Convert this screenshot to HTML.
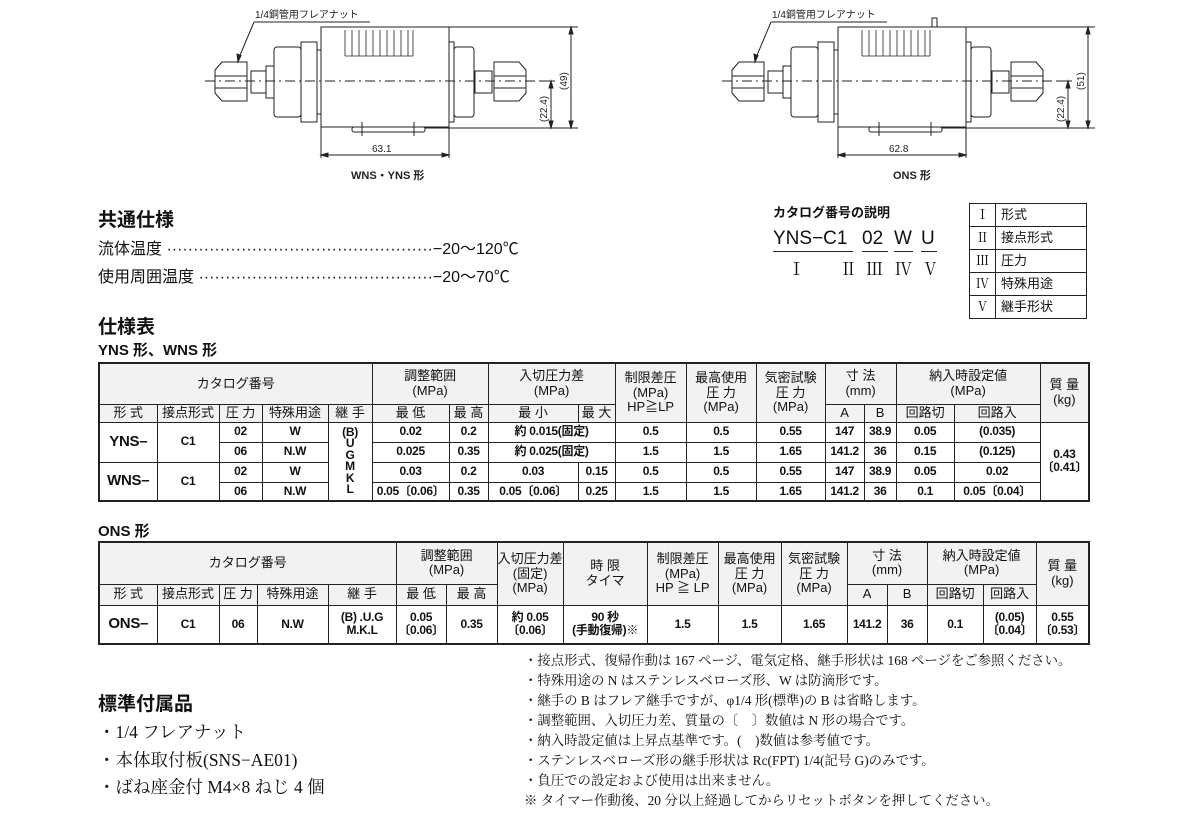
<!DOCTYPE html>
<html><head><meta charset="utf-8">
<style>
*{margin:0;padding:0;box-sizing:border-box}
body{width:1185px;height:821px;background:#fff;position:relative;overflow:hidden;font-family:"Liberation Sans","Noto Sans CJK JP",sans-serif;color:#111}
.a{position:absolute;white-space:nowrap}
.h{font-weight:bold;font-size:19px}
.s{font-family:"Liberation Serif","Noto Serif CJK SC",serif}
table{position:absolute;border-collapse:collapse;table-layout:fixed;font-size:12.5px}
td{border:1px solid #222;text-align:center;vertical-align:middle;padding:0;line-height:1.1;overflow:hidden;white-space:nowrap}
.hd td{background:#f2f2f2;font-size:13px}
.d td{font-weight:bold;font-size:12px;letter-spacing:-0.3px}
.big{font-size:15px!important;font-weight:bold}
.notes div{position:absolute;left:0;font-size:13.4px;white-space:nowrap}
.cn{position:absolute;top:227px;font-size:19px;border-bottom:1.5px solid #222;line-height:24px}
.rn{position:absolute;top:255px;font-size:17px;font-family:"Liberation Serif","Noto Serif CJK SC",serif}
</style></head><body>

<svg class="a" style="left:0;top:0" width="1185" height="200" viewBox="0 0 1185 200">
<g id="d1" fill="none" stroke="#222" stroke-width="1">
 <rect x="321" y="27" width="128" height="100"/>
 <g stroke-width="0.8">
 <line x1="345" y1="30" x2="345" y2="56"/><line x1="352" y1="30" x2="352" y2="56"/><line x1="359" y1="30" x2="359" y2="56"/><line x1="366" y1="30" x2="366" y2="56"/><line x1="373" y1="30" x2="373" y2="56"/><line x1="380" y1="30" x2="380" y2="56"/><line x1="387" y1="30" x2="387" y2="56"/><line x1="394" y1="30" x2="394" y2="56"/><line x1="401" y1="30" x2="401" y2="56"/><line x1="408" y1="30" x2="408" y2="56"/><line x1="413" y1="30" x2="413" y2="56"/>
 <line x1="345" y1="56" x2="413" y2="56"/>
 </g>
 <rect x="274" y="47" width="27" height="70" rx="3"/>
 <rect x="301" y="42" width="16" height="80"/>
 <rect x="317" y="50" width="4" height="64"/>
 <rect x="251" y="71" width="15" height="22"/>
 <rect x="266" y="66" width="8" height="32"/>
 <path d="M222 62 H247 V101 H222 L215 93 V70 Z"/>
 <line x1="215" y1="76" x2="247" y2="76"/><line x1="215" y1="88" x2="247" y2="88"/>
 <rect x="449" y="42" width="5" height="80"/>
 <rect x="454" y="47" width="20" height="70" rx="3"/>
 <rect x="475" y="71" width="17" height="22"/>
 <path d="M494 62 H519 L526 70 V93 L519 101 H494 Z"/>
 <line x1="494" y1="76" x2="526" y2="76"/><line x1="494" y1="88" x2="526" y2="88"/>
 <rect x="352" y="127" width="73" height="5" rx="2"/>
 <line x1="362" y1="122" x2="362" y2="136"/><line x1="414" y1="122" x2="414" y2="136"/>
 <line x1="205" y1="81" x2="540" y2="81" stroke-dasharray="10 4 2 4"/>
 <line x1="321" y1="127" x2="321" y2="158"/><line x1="449" y1="127" x2="449" y2="158"/>
 <line x1="321" y1="155" x2="449" y2="155"/>
 <path d="M321 155 l7 -2 v4 z M449 155 l-7 -2 v4 z" fill="#222"/>
 <line x1="449" y1="27" x2="578" y2="27"/><line x1="425" y1="128" x2="578" y2="128"/>
 <line x1="540" y1="81" x2="555" y2="81"/>
 <line x1="571" y1="27" x2="571" y2="128"/><line x1="551" y1="81" x2="551" y2="128"/>
 <path d="M571 27 l-2 7 h4 z M571 128 l-2 -7 h4 z M551 81 l-2 7 h4 z M551 128 l-2 -7 h4 z" fill="#222"/>
 <line x1="254" y1="22" x2="370" y2="22"/>
 <line x1="254" y1="22" x2="238" y2="60"/>
 <path d="M238 62 l-1 -8 l4 1.5 z" fill="#222"/>
</g>
<g transform="translate(517,0)">
 <use href="#d1"/>
</g>
<rect x="932" y="18" width="5" height="9" fill="none" stroke="#222"/>
<g font-size="10" fill="#222" font-family="Liberation Sans,Noto Sans CJK JP,sans-serif">
 <text x="255" y="18">1/4銅管用フレアナット</text>
 <text x="372" y="152">63.1</text>
 <text x="889" y="152">62.8</text>
 <text transform="translate(567,90) rotate(-90)">(49)</text>
 <text transform="translate(547,122) rotate(-90)">(22.4)</text>
 <text transform="translate(1084,90) rotate(-90)">(51)</text>
 <text transform="translate(1064,122) rotate(-90)">(22.4)</text>
 <text x="772" y="18">1/4銅管用フレアナット</text>
 <text x="351" y="179" font-weight="bold" font-size="11">WNS・YNS 形</text>
 <text x="893" y="179" font-weight="bold" font-size="11">ONS 形</text>
</g>
</svg>

<div class="a h" style="left:98px;top:205px">共通仕様</div>
<div class="a" style="left:98px;top:235px;font-size:16px">流体温度 ··················································−20〜120℃</div>
<div class="a" style="left:98px;top:263px;font-size:16px">使用周囲温度 ············································−20〜70℃</div>
<div class="a h" style="left:98px;top:312px">仕様表</div>
<div class="a" style="left:98px;top:339px;font-size:15px;font-weight:bold">YNS 形、WNS 形</div>
<div class="a" style="left:98px;top:520px;font-size:15px;font-weight:bold">ONS 形</div>

<div class="a" style="left:773px;top:202px;font-size:13px;font-weight:bold">カタログ番号の説明</div>
<div class="cn" style="left:773px;width:80px">YNS−C1</div>
<div class="cn" style="left:862px;width:26px">02</div>
<div class="cn" style="left:894px;width:19px">W</div>
<div class="cn" style="left:921px;width:16px">U</div>
<div class="rn" style="left:788px">Ⅰ</div>
<div class="rn" style="left:840px">Ⅱ</div>
<div class="rn" style="left:866px">Ⅲ</div>
<div class="rn" style="left:895px">Ⅳ</div>
<div class="rn" style="left:922px">Ⅴ</div>
<table style="left:969px;top:203px;width:117px;font-size:13px">
<colgroup><col style="width:26px"><col style="width:91px"></colgroup>
<tr style="height:23px"><td class="s">Ⅰ</td><td style="text-align:left;padding-left:5px">形式</td></tr>
<tr style="height:23px"><td class="s">Ⅱ</td><td style="text-align:left;padding-left:5px">接点形式</td></tr>
<tr style="height:23px"><td class="s">Ⅲ</td><td style="text-align:left;padding-left:5px">圧力</td></tr>
<tr style="height:23px"><td class="s">Ⅳ</td><td style="text-align:left;padding-left:5px">特殊用途</td></tr>
<tr style="height:23px"><td class="s">Ⅴ</td><td style="text-align:left;padding-left:5px">継手形状</td></tr>
</table>

<table style="left:98px;top:362px;width:990px;border:2px solid #222">
<colgroup><col style="width:58px"><col style="width:62px"><col style="width:43px"><col style="width:66px"><col style="width:44px"><col style="width:77px"><col style="width:39px"><col style="width:90px"><col style="width:37px"><col style="width:71px"><col style="width:70px"><col style="width:69px"><col style="width:39px"><col style="width:32px"><col style="width:58px"><col style="width:86px"><col style="width:49px"></colgroup>
<tr class="hd" style="height:41px"><td colspan="5">カタログ番号</td><td colspan="2">調整範囲<br>(MPa)</td><td colspan="2">入切圧力差<br>(MPa)</td><td rowspan="2">制限差圧<br>(MPa)<br>HP≧LP</td><td rowspan="2">最高使用<br>圧 力<br>(MPa)</td><td rowspan="2">気密試験<br>圧 力<br>(MPa)</td><td colspan="2">寸 法<br>(mm)</td><td colspan="2">納入時設定値<br>(MPa)</td><td rowspan="2">質 量<br>(kg)</td></tr>
<tr class="hd" style="height:18px"><td>形 式</td><td>接点形式</td><td>圧 力</td><td>特殊用途</td><td>継 手</td><td>最 低</td><td>最 高</td><td>最 小</td><td>最 大</td><td>A</td><td>B</td><td>回路切</td><td>回路入</td></tr>
<tr class="d" style="height:20px"><td rowspan="2" class="big">YNS–</td><td rowspan="2">C1</td><td>02</td><td>W</td><td rowspan="4" style="line-height:0.95">(B)<br>U<br>G<br>M<br>K<br>L</td><td>0.02</td><td>0.2</td><td colspan="2">約 0.015(固定)</td><td>0.5</td><td>0.5</td><td>0.55</td><td>147</td><td>38.9</td><td>0.05</td><td>(0.035)</td><td rowspan="4">0.43<br>〔0.41〕</td></tr>
<tr class="d" style="height:20px"><td>06</td><td>N.W</td><td>0.025</td><td>0.35</td><td colspan="2">約 0.025(固定)</td><td>1.5</td><td>1.5</td><td>1.65</td><td>141.2</td><td>36</td><td>0.15</td><td>(0.125)</td></tr>
<tr class="d" style="height:20px"><td rowspan="2" class="big">WNS–</td><td rowspan="2">C1</td><td>02</td><td>W</td><td>0.03</td><td>0.2</td><td>0.03</td><td>0.15</td><td>0.5</td><td>0.5</td><td>0.55</td><td>147</td><td>38.9</td><td>0.05</td><td>0.02</td></tr>
<tr class="d" style="height:19px"><td>06</td><td>N.W</td><td>0.05〔0.06〕</td><td>0.35</td><td>0.05〔0.06〕</td><td>0.25</td><td>1.5</td><td>1.5</td><td>1.65</td><td>141.2</td><td>36</td><td>0.1</td><td>0.05〔0.04〕</td></tr>
</table>

<table style="left:98px;top:541px;width:990px;border:2px solid #222">
<colgroup><col style="width:58px"><col style="width:62px"><col style="width:38px"><col style="width:71px"><col style="width:68px"><col style="width:50px"><col style="width:51px"><col style="width:66px"><col style="width:84px"><col style="width:71px"><col style="width:63px"><col style="width:66px"><col style="width:40px"><col style="width:40px"><col style="width:56px"><col style="width:53px"><col style="width:53px"></colgroup>
<tr class="hd" style="height:42px"><td colspan="5">カタログ番号</td><td colspan="2">調整範囲<br>(MPa)</td><td rowspan="2">入切圧力差<br>(固定)<br>(MPa)</td><td rowspan="2">時 限<br>タイマ</td><td rowspan="2">制限差圧<br>(MPa)<br>HP ≧ LP</td><td rowspan="2">最高使用<br>圧 力<br>(MPa)</td><td rowspan="2">気密試験<br>圧 力<br>(MPa)</td><td colspan="2">寸 法<br>(mm)</td><td colspan="2">納入時設定値<br>(MPa)</td><td rowspan="2">質 量<br>(kg)</td></tr>
<tr class="hd" style="height:21px"><td>形 式</td><td>接点形式</td><td>圧 力</td><td>特殊用途</td><td>継 手</td><td>最 低</td><td>最 高</td><td>A</td><td>B</td><td>回路切</td><td>回路入</td></tr>
<tr class="d" style="height:39px"><td class="big">ONS–</td><td>C1</td><td>06</td><td>N.W</td><td>(B) .U.G<br>M.K.L</td><td>0.05<br>〔0.06〕</td><td>0.35</td><td>約 0.05<br>〔0.06〕</td><td>90 秒<br>(手動復帰)※</td><td>1.5</td><td>1.5</td><td>1.65</td><td>141.2</td><td>36</td><td>0.1</td><td>(0.05)<br>〔0.04〕</td><td>0.55<br>〔0.53〕</td></tr>
</table>

<div class="a notes s" style="left:524px;top:650px">
<div style="top:0">・接点形式、復帰作動は 167 ページ、電気定格、継手形状は 168 ページをご参照ください。</div>
<div style="top:20px">・特殊用途の N はステンレスベローズ形、W は防滴形です。</div>
<div style="top:40px">・継手の B はフレア継手ですが、φ1/4 形(標準)の B は省略します。</div>
<div style="top:60px">・調整範囲、入切圧力差、質量の〔　〕数値は N 形の場合です。</div>
<div style="top:80px">・納入時設定値は上昇点基準です。(　)数値は参考値です。</div>
<div style="top:100px">・ステンレスベローズ形の継手形状は Rc(FPT)  1/4(記号 G)のみです。</div>
<div style="top:120px">・負圧での設定および使用は出来ません。</div>
<div style="top:140px">※ タイマー作動後、20 分以上経過してからリセットボタンを押してください。</div>
</div>

<div class="a h" style="left:98px;top:689px">標準付属品</div>
<div class="a s" style="left:98px;top:719px;font-size:17.5px">・1/4 フレアナット</div>
<div class="a s" style="left:98px;top:747px;font-size:17.5px">・本体取付板(SNS−AE01)</div>
<div class="a s" style="left:98px;top:774px;font-size:17.5px">・ばね座金付 M4×8 ねじ 4 個</div>
</body></html>
